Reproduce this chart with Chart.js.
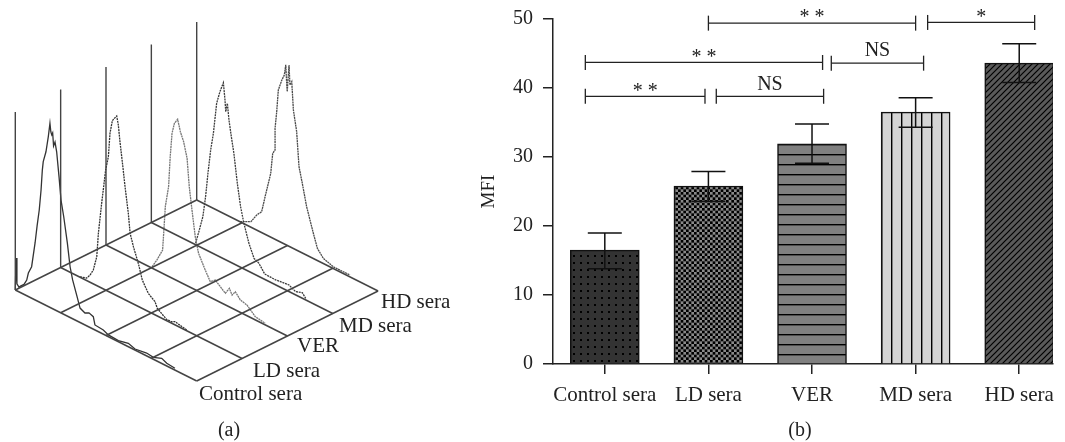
<!DOCTYPE html>
<html lang="en">
<head>
    <meta charset="UTF-8">
    <title>MFI histograms and bars</title>
    <script src="https://cdn.jsdelivr.net/npm/chart.js"></script>
    <style>
        html, body { margin: 0; padding: 0; background: #fff; overflow: hidden; }
        .panel { position: absolute; top: 0; height: 442px; }
        #panelA { left: 0; width: 470px; }
        #panelB { left: 430px; width: 635px; }
    </style>
</head>
<body>
    <div class="panel" id="panelA"><canvas id="histChart" width="470" height="442"></canvas></div>
    <div class="panel" id="panelB"><canvas id="barChart" width="635" height="442"></canvas></div>

    <script>
        // panel (a): histograms (channel, count)
        const seriesNames = ["Control sera", "LD sera", "VER", "MD sera", "HD sera"];
        const controlChannel = [0, 0.4, 0.9, 2, 3.1, 4.8, 6.3, 7.2, 9, 10.9, 12, 13.2, 14.2, 14.9, 15.4, 16.9, 18.2, 19.1, 19.6, 20.1, 20.6, 21.1, 21.9, 22.8, 24.1, 25.2, 26.7, 28.7, 30.2, 31.6, 33.8, 35.7, 38.4, 40.6, 43, 43.9, 48.5, 51.3, 56.8, 62.3, 66, 72.4, 76.1, 80.7, 83.5, 88];
        const controlCount = [0, 18.2, 3.9, 2.7, 3.9, 5.6, 8.8, 13.2, 17.7, 32, 42, 51.7, 63.4, 75, 80, 86.3, 95.5, 103.4, 98.8, 97.4, 98.8, 91.7, 94.3, 89.3, 76, 63.4, 54.8, 41, 28.5, 21.8, 14.5, 8.1, 6.7, 7.9, 7, 2.8, 2.3, 1, 0.6, 1.9, 0.6, 1.6, 1.1, 2.9, 1.5, 1];
        const ldChannel = [10.7, 14.3, 16.2, 18, 19.9, 20.8, 22.6, 23.5, 24.8, 26.3, 27.2, 28.5, 29.6, 30.9, 31.8, 32.7, 34.2, 35.5, 37.3, 38.3, 40.1, 42.8, 45, 48.3, 52, 53.3, 54.8, 58.4, 61.2, 63, 69.5];
        const ldCount = [0.2, 1.4, 4, 7.8, 16.2, 29.8, 47.6, 55.6, 67.5, 75.7, 89.3, 97, 98.9, 100.9, 96.3, 87.4, 75, 63.5, 49.5, 38.8, 32.2, 24.3, 16, 10.2, 7.4, 4.3, 3.2, 0.7, 0.8, 1.8, 0.4];
        const verChannel = [25.4, 28.1, 31.2, 31.8, 32.7, 34.5, 35.4, 36.4, 37.7, 39.5, 41, 42.8, 44.7, 45.9, 47.4, 49.2, 51, 54.7, 57.5, 60.3, 63, 65.8, 68, 69.5, 71.3, 74, 77.7, 82.3, 87.8];
        const verCount = [0.8, 6, 13.1, 22.8, 38.3, 50.4, 67.8, 81.3, 87.6, 90.8, 84.6, 79.9, 71.5, 56.2, 43.9, 29.8, 21.5, 13.9, 8.8, 11.1, 8.8, 6.5, 10.4, 7.4, 10.2, 7, 6, 1.8, 0.9];
        const mdChannel = [24.4, 26.2, 28.4, 29.9, 31.2, 32.7, 34.2, 36, 37.8, 39.7, 40.6, 41, 41.9, 42.8, 44.1, 45.5, 47.4, 49.2, 51, 53.8, 56.6, 59.3, 62.5, 68.5, 75.9, 79.5, 83.2, 85.1];
        const mdCount = [0.8, 8.3, 17.8, 29.8, 43.6, 57.4, 67.6, 85.4, 92.8, 98.8, 89.6, 83.2, 88.4, 79.4, 70.7, 62.1, 46.2, 34, 25.7, 15.8, 8.8, 7.4, 3, 2.8, 3.7, 1.8, 3.1, 0.9];
        const hdChannel = [23.9, 29.9, 33.1, 35.8, 37.7, 39.5, 40.8, 41.9, 43.2, 43.2, 44.1, 45, 46.9, 48.3, 49.1, 49.6, 49.9, 50.9, 51.4, 52.4, 53.3, 55.1, 56.4, 58.2, 60.6, 64.3, 66.5, 69.8, 75.3, 80.8, 84.5];
        const hdCount = [0, 3.1, 8.5, 11.7, 21.1, 29.6, 35.8, 47.6, 50.2, 62.4, 72.1, 84.8, 91.3, 94.9, 101, 91, 86.4, 101.9, 90.9, 93.3, 77.8, 66.6, 47.5, 39.2, 27.2, 14.2, 6.9, 2.9, 1, 1, 1.1];
        const floorChannels = [0, 25, 50, 75, 100];
        const countAxisMax = 100;

        // panel (b): bars, error bars, significance brackets
        const barLabels = ["Control sera", "LD sera", "VER", "MD sera", "HD sera"];
        const barValues = [16.5, 25.8, 31.9, 36.5, 43.6];
        const barLower = [13.8, 23.6, 29.1, 34.3, 40.8];
        const barUpper = [19.0, 27.9, 34.8, 38.6, 46.4];
        const yTicks = [0, 10, 20, 30, 40, 50];
        const bracketFrom = [2, 4.116, 0.812, 3.186, 0.812, 2.076];
        const bracketTo = [4, 5.149, 3.102, 4.077, 1.967, 3.112];
        const bracketLevel = [49.4, 49.5, 43.7, 43.6, 38.8, 38.8];
        const bracketText = ["* *", "*", "* *", "NS", "* *", "NS"];

        const SERIF = '"Liberation Serif", "Times New Roman", serif';

        // oblique view: each series steps back along the floor
        function project(channel, seriesIdx, count) {
            return {
                x: channel + 25 * seriesIdx,
                y: 1.78 * count - 0.91 * channel + 22.5 * seriesIdx
            };
        }

        function lineSet(points, color, width, dash) {
            return {
                data: points, borderColor: color, borderWidth: width, borderDash: dash || [],
                pointRadius: 0, tension: 0, fill: false, clip: false
            };
        }

        let histSets = [];
        // floor grid and the upright count axes
        for (let k = 0; k < seriesNames.length; k++) {
            histSets.push(lineSet([project(0, k, 0), project(100, k, 0)], "#444", 1.5));
            histSets.push(lineSet([project(0, k, 0), project(0, k, countAxisMax)], "#444", 1.4));
        }
        floorChannels.forEach(function(c) {
            histSets.push(lineSet([project(c, 0, 0), project(c, seriesNames.length - 1, 0)], "#444", 1.5));
        });
        // histogram traces
        const traces = [
            [controlChannel, controlCount, "#333", 1.3, []],
            [ldChannel, ldCount, "#333", 1.3, [2, 0.8]],
            [verChannel, verCount, "#777", 1.3, [2, 0.6]],
            [mdChannel, mdCount, "#3c3c3c", 1.3, [2, 0.8]],
            [hdChannel, hdCount, "#4a4a4a", 1.3, [2, 0.6]]
        ];
        traces.forEach(function(t, k) {
            let pts = t[0].map(function(c, i) { return project(c, k, t[1][i]); });
            histSets.push(lineSet(pts, t[2], t[3], t[4]));
        });

        const histLabels = {
            id: "histLabels",
            afterDraw(chart) {
                const ctx = chart.ctx;
                ctx.save();
                ctx.fillStyle = "#222";
                ctx.textBaseline = "middle";
                ctx.font = "21px " + SERIF;
                const xs = [199, 253, 297, 339, 381];
                const ys = [394, 371, 346, 326, 302];
                seriesNames.forEach(function(name, i) { ctx.fillText(name, xs[i], ys[i]); });
                ctx.font = "20px " + SERIF;
                ctx.textAlign = "center";
                ctx.fillText("(a)", 229, 431);
                ctx.restore();
            }
        };

        new Chart(document.getElementById("histChart"), {
            type: "scatter",
            data: { datasets: histSets.map(function(d) { return Object.assign(d, { showLine: true }); }) },
            options: {
                responsive: false,
                animation: false,
                layout: { padding: 0, autoPadding: false },
                plugins: { legend: { display: false }, tooltip: { enabled: false } },
                scales: {
                    x: { display: false, min: -15.3 / 1.814, max: (470 - 15.3) / 1.814 },
                    y: { display: false, min: -152, max: 290 }
                }
            },
            plugins: [histLabels]
        });

        // hatch fills
        function makeFill(w, h, paint) {
            const c = document.createElement("canvas");
            c.width = w; c.height = h;
            paint(c.getContext("2d"));
            return document.createElement("canvas").getContext("2d").createPattern(c, "repeat");
        }
        const barFills = [
            makeFill(7, 7, function(g) {
                g.fillStyle = "#333"; g.fillRect(0, 0, 7, 7);
                g.fillStyle = "#000"; g.fillRect(3, 3, 2, 2);
            }),
            makeFill(16, 16, function(g) {
                g.fillStyle = "#8a8a8a"; g.fillRect(0, 0, 16, 16);
                g.fillStyle = "#000";
                const cell = 16 / 6;
                for (let r = 0; r < 6; r++) {
                    for (let q = 0; q < 6; q++) {
                        if ((r + q) % 2 === 0) g.fillRect(q * cell, r * cell, cell, cell);
                    }
                }
            }),
            makeFill(10, 10, function(g) {
                g.fillStyle = "#808080"; g.fillRect(0, 0, 10, 10);
                g.fillStyle = "#000"; g.fillRect(0, 4, 10, 1.4);
            }),
            makeFill(10, 10, function(g) {
                g.fillStyle = "#d4d4d4"; g.fillRect(0, 0, 10, 10);
                g.fillStyle = "#000"; g.fillRect(1, 0, 1.4, 10);
            }),
            makeFill(6, 6, function(g) {
                g.fillStyle = "#5a5a5a"; g.fillRect(0, 0, 6, 6);
                g.strokeStyle = "#000"; g.lineWidth = 1.2;
                g.beginPath();
                g.moveTo(-1, 7); g.lineTo(7, -1);
                g.moveTo(-1, 1); g.lineTo(1, -1);
                g.moveTo(5, 7); g.lineTo(7, 5);
                g.stroke();
            })
        ];

        let barSets = [{
            type: "bar",
            data: barValues.map(function(v, i) { return { x: i + 1, y: v }; }),
            backgroundColor: barFills,
            borderColor: "#111",
            borderWidth: 1.5,
            barThickness: 69,
            order: 2
        }];
        // error bars: a two point line with flat caps
        barValues.forEach(function(v, i) {
            barSets.push({
                type: "scatter", showLine: true, order: 1, clip: false,
                data: [{ x: i + 1, y: barLower[i] }, { x: i + 1, y: barUpper[i] }],
                borderColor: "#111", borderWidth: 1.5,
                pointStyle: "line", pointRadius: 17, pointBorderColor: "#111", pointBorderWidth: 1.5
            });
        });
        // brackets: a two point line with upright end caps
        bracketLevel.forEach(function(lvl, i) {
            barSets.push({
                type: "scatter", showLine: true, order: 1, clip: false,
                data: [{ x: bracketFrom[i], y: lvl }, { x: bracketTo[i], y: lvl }],
                borderColor: "#222", borderWidth: 1.3,
                pointStyle: "line", pointRotation: 90, pointRadius: 7.5, pointBorderColor: "#222", pointBorderWidth: 1.3
            });
        });

        const bracketLabels = {
            id: "bracketLabels",
            afterDatasetsDraw(chart) {
                const ctx = chart.ctx, sx = chart.scales.x, sy = chart.scales.y;
                ctx.save();
                ctx.fillStyle = "#222";
                ctx.textAlign = "center";
                ctx.textBaseline = "middle";
                ctx.font = "20px " + SERIF;
                bracketText.forEach(function(txt, i) {
                    const mid = (bracketFrom[i] + bracketTo[i]) / 2;
                    const ns = txt === "NS";
                    ctx.fillText(txt, sx.getPixelForValue(mid), sy.getPixelForValue(bracketLevel[i]) - (ns ? 12 : 5));
                });
                ctx.fillText("(b)", 370, 431);
                ctx.restore();
            }
        };

        new Chart(document.getElementById("barChart"), {
            type: "bar",
            data: { datasets: barSets },
            options: {
                responsive: false,
                animation: false,
                layout: { padding: { top: 19, right: 12, bottom: 0, left: 0 }, autoPadding: false },
                plugins: { legend: { display: false }, tooltip: { enabled: false } },
                scales: {
                    x: {
                        type: "linear", min: 0.5, max: 5.326, offset: false,
                        grid: { display: true, offset: false, drawOnChartArea: false, color: "#222", lineWidth: 1.5, tickLength: 10 },
                        border: { color: "#222", width: 1.5 },
                        afterBuildTicks(axis) { axis.ticks = barLabels.map(function(_, i) { return { value: i + 1 }; }); },
                        afterFit(axis) { axis.height = 78; axis.paddingLeft = 0; axis.paddingRight = 0; },
                        ticks: {
                            autoSkip: false, maxRotation: 0, color: "#222", padding: 9,
                            font: { family: SERIF, size: 21 },
                            callback(v) { return barLabels[v - 1]; }
                        }
                    },
                    y: {
                        min: 0, max: 50,
                        grid: { display: true, drawOnChartArea: false, color: "#222", lineWidth: 1.5, tickLength: 10 },
                        border: { color: "#222", width: 1.5 },
                        afterBuildTicks(axis) { axis.ticks = yTicks.map(function(v) { return { value: v }; }); },
                        afterFit(axis) { axis.width = 123; axis.paddingTop = 0; axis.paddingBottom = 0; },
                        title: { display: true, text: "MFI", color: "#222", font: { family: SERIF, size: 19 }, padding: { top: 48, bottom: 0 } },
                        ticks: { color: "#222", padding: 10, font: { family: SERIF, size: 20 } }
                    }
                }
            },
            plugins: [bracketLabels]
        });
    </script>
</body>
</html>
